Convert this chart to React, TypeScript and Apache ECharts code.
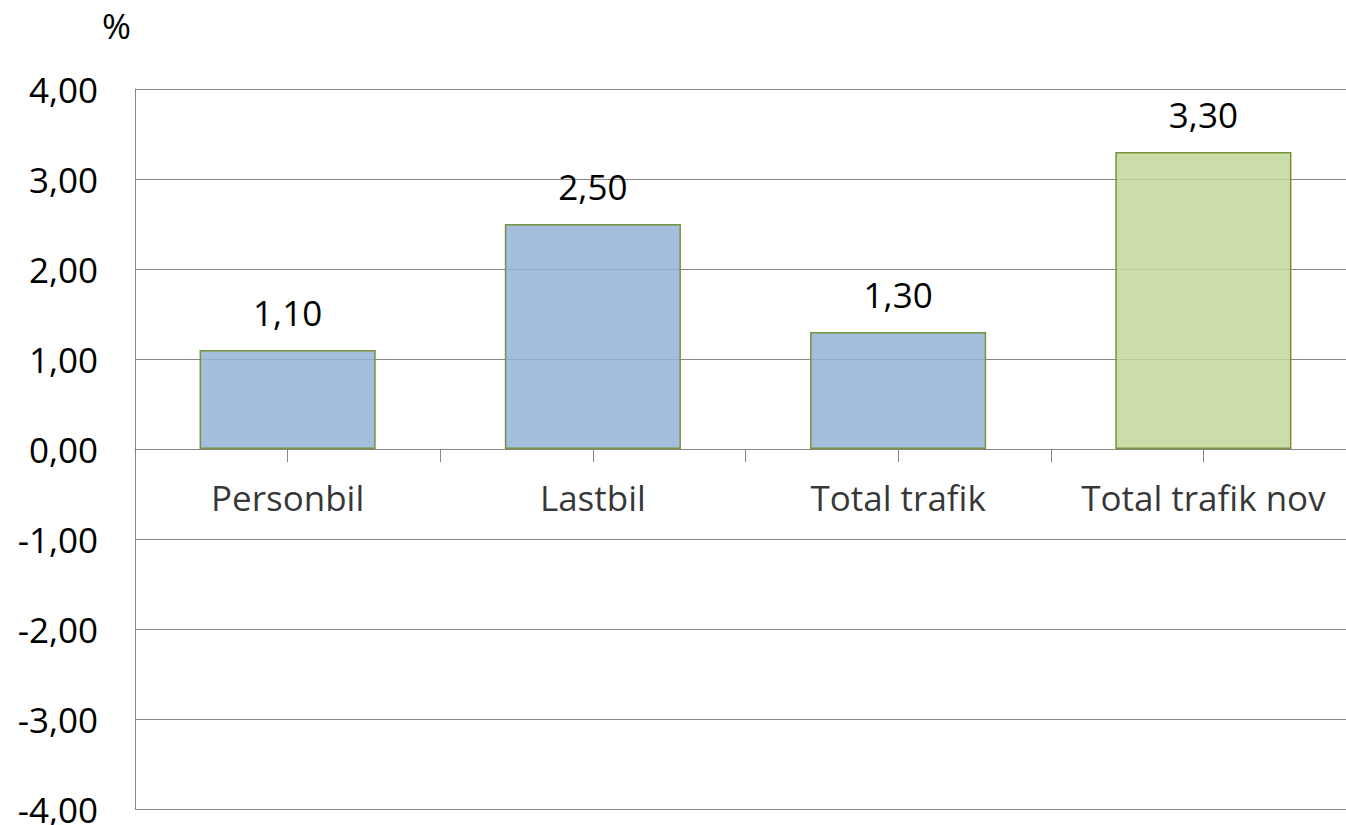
import React, { useEffect, useRef } from "react";
import * as echarts from "echarts";

const categories = ["Personbil", "Lastbil", "Total trafik", "Total trafik nov"];
const values = [1.1, 2.5, 1.3, 3.3];
const barFills = [
  "rgba(149,179,215,0.85)",
  "rgba(149,179,215,0.85)",
  "rgba(149,179,215,0.85)",
  "rgba(196,215,155,0.85)",
];
const yMin = -4;
const yMax = 4;
const yStep = 1;
const unitLabel = "%";

const fmt = (v: number) => v.toFixed(2).replace(".", ",");
const FONT = "Open Sans";
const FS = 35;

// each category occupies two half-slots on the x scale: boundary at even, centre at odd
const catPos = (i: number) => 2 * i + 1;

export default function App() {
  const ref = useRef<HTMLDivElement>(null);
  useEffect(() => {
    if (!ref.current) return;
    const chart = echarts.init(ref.current, undefined, { renderer: "svg" });
    chart.setOption({
      animation: false,
      backgroundColor: "#ffffff",
      textStyle: { fontFamily: FONT },
      grid: {
        left: 135,
        right: -10,
        top: 89,
        bottom: 16,
        containLabel: false,
        outerBoundsMode: "none",
      },
      graphic: [
        {
          type: "text",
          left: 102,
          top: 8,
          style: { text: unitLabel, fontSize: FS, fontFamily: FONT, fill: "#000" },
        },
      ],
      xAxis: {
        type: "value",
        min: 0,
        max: categories.length * 2,
        interval: 1,
        axisLine: { show: true, onZero: true, lineStyle: { color: "#868686", width: 1 } },
        axisTick: { show: true, length: 13, lineStyle: { color: "#868686" } },
        axisLabel: { show: false },
        splitLine: { show: false },
      },
      yAxis: {
        type: "value",
        min: yMin,
        max: yMax,
        interval: yStep,
        axisLine: { show: true, onZero: false, lineStyle: { color: "#868686", width: 1 } },
        axisTick: { show: false },
        axisLabel: {
          color: "#000",
          fontSize: FS,
          fontFamily: FONT,
          margin: 37,
          formatter: (v: number) => fmt(v),
        },
        splitLine: { show: true, lineStyle: { color: "#868686", width: 1 } },
      },
      series: [
        {
          type: "bar",
          barWidth: "57.7%",
          data: values.map((v, i) => ({
            value: [catPos(i), v],
            itemStyle: { color: barFills[i], borderColor: "#77933C", borderWidth: 1.5 },
          })),
          label: {
            show: true,
            position: "top",
            distance: 20,
            color: "#000",
            fontSize: FS,
            fontFamily: FONT,
            formatter: (p: any) => fmt(p.value[1]),
          },
        },
        {
          // category names, placed under the zero line at each category centre
          type: "scatter",
          symbolSize: 0,
          silent: true,
          data: categories.map((c, i) => ({ value: [catPos(i), 0], name: c })),
          label: {
            show: true,
            position: "bottom",
            distance: 31,
            color: "#000",
            fontSize: FS,
            fontFamily: FONT,
            formatter: (p: any) => p.name,
          },
        },
      ],
    });
    return () => chart.dispose();
  }, []);
  return (
    <div
      ref={ref}
      style={{ position: "fixed", left: 0, top: 0, width: 1346, height: 825, background: "#fff" }}
    />
  );
}
